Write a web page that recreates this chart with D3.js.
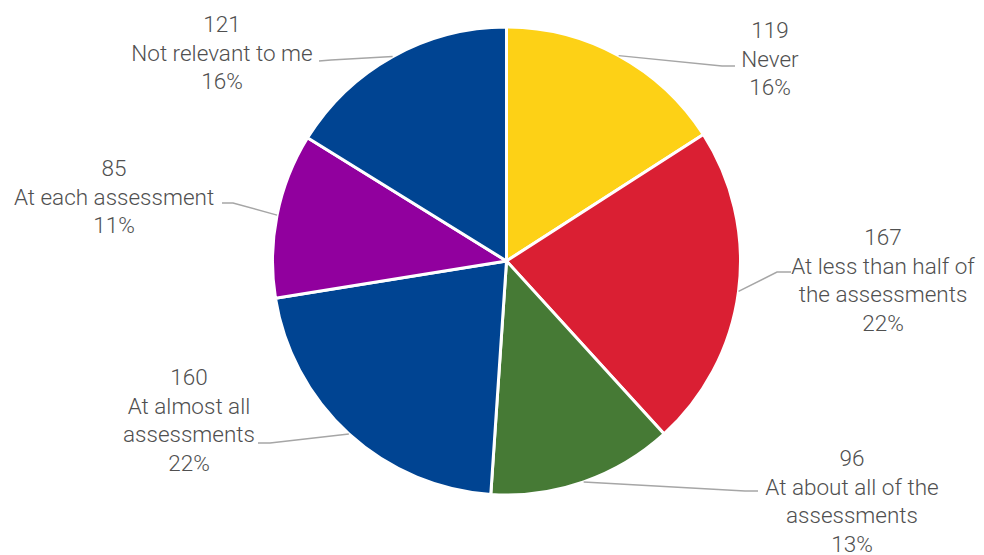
<!DOCTYPE html>
<html>
<head>
<meta charset="utf-8">
<script src="https://cdn.jsdelivr.net/npm/d3@7"></script>
<style>
  html, body { margin: 0; padding: 0; background: #ffffff; }
  svg { display: block; }
  .lbl { font-family: Roboto, "Open Sans", sans-serif; font-weight: 300; font-size: 22.5px; fill: #505050; }
</style>
</head>
<body>
<svg id="chart" width="984" height="555"></svg>
<script>
// Survey responses, one slice per answer (clockwise from 12 o'clock)
const categories = [
  "Never",
  "At less than half of the assessments",
  "At about all of the assessments",
  "At almost all assessments",
  "At each assessment",
  "Not relevant to me"
];
const counts = [119, 167, 96, 160, 85, 121];
// Shares as printed on the labels (%)
const shares = [16, 22, 13, 22, 11, 16];
// How each label is broken into lines
const labelLines = [
  ["Never"],
  ["At less than half of", "the assessments"],
  ["At about all of the", "assessments"],
  ["At almost all", "assessments"],
  ["At each assessment"],
  ["Not relevant to me"]
];
const colors = ["#FDD116", "#DA1F33", "#467A35", "#004492", "#91009E", "#004492"];

// Label placement: text centre x, first baseline y, leader elbow and leader end
const labelLayout = [
  { x: 770, y: 38,  elbow: [722, 66],  end: [735, 66] },
  { x: 883, y: 245, elbow: [777, 272], end: [791, 272] },
  { x: 852, y: 466, elbow: [745, 491], end: [758, 491] },
  { x: 189, y: 385, elbow: [270, 443], end: [258, 443] },
  { x: 114, y: 176, elbow: [233, 203], end: [222, 203] },
  { x: 222, y: 32,  elbow: [331, 60],  end: [319, 61] }
];

const cx = 506.5, cy = 261, radius = 234, lineH = 28.5;

const svg = d3.select("#chart");
const data = counts.map((v, i) => ({ name: categories[i], value: v, i }));

const pie = d3.pie().value(d => d.value).sort(null);
const arcs = pie(data);
const arc = d3.arc().innerRadius(0).outerRadius(radius);
const edge = d3.arc().innerRadius(radius).outerRadius(radius);

const g = svg.append("g").attr("transform", `translate(${cx},${cy})`);

g.selectAll("path.slice")
  .data(arcs)
  .join("path")
  .attr("class", "slice")
  .attr("d", arc)
  .attr("fill", d => colors[d.data.i])
  .attr("stroke", "#ffffff")
  .attr("stroke-width", 3)
  .attr("stroke-linejoin", "round");

// Leader lines from the slice rim to the label
const line = d3.line();
svg.selectAll("path.leader")
  .data(arcs)
  .join("path")
  .attr("class", "leader")
  .attr("d", d => {
    const c = edge.centroid(d);
    const L = labelLayout[d.data.i];
    return line([[cx + c[0], cy + c[1]], L.elbow, L.end]);
  })
  .attr("fill", "none")
  .attr("stroke", "#a6a6a6")
  .attr("stroke-width", 1.5);

// Labels: count, category, share
arcs.forEach(d => {
  const i = d.data.i;
  const L = labelLayout[i];
  const lines = [String(d.data.value), ...labelLines[i], shares[i] + "%"];
  const t = svg.append("text")
    .attr("class", "lbl")
    .attr("text-anchor", "middle");
  lines.forEach((s, k) => {
    t.append("tspan").attr("x", L.x).attr("y", L.y + k * lineH).text(s);
  });
});
</script>
</body>
</html>
